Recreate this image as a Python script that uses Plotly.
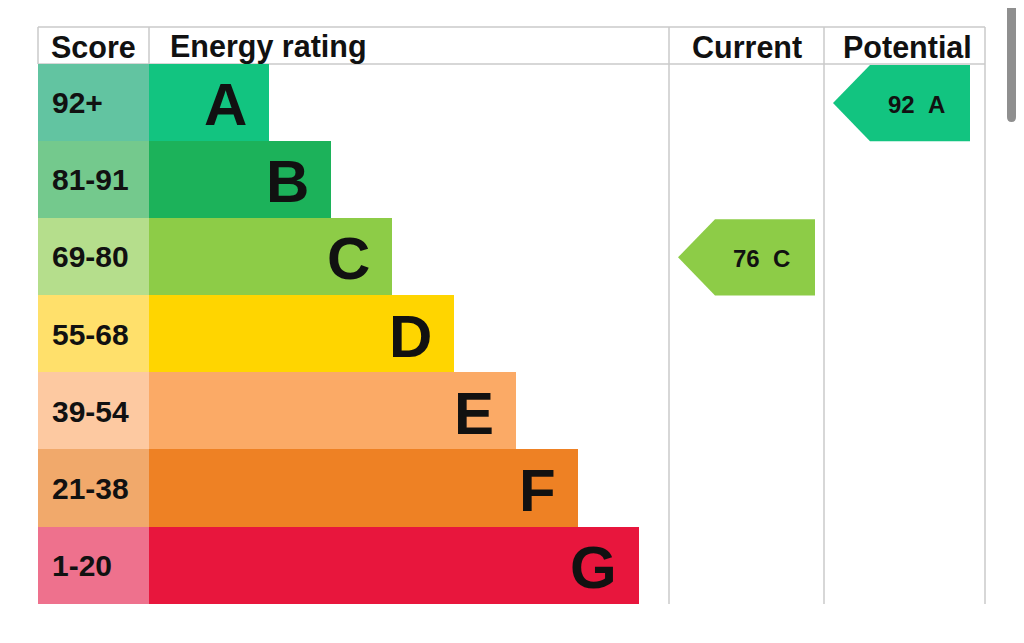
import plotly.graph_objects as go

# energy bands, top (best) to bottom
bands = ["A", "B", "C", "D", "E", "F", "G"]
score_ranges = ["92+", "81-91", "69-80", "55-68", "39-54", "21-38", "1-20"]
band_colors = ["#12c480", "#1cb25a", "#8dcc47", "#ffd500", "#fbaa66", "#ee8124", "#e8163d"]
score_colors = ["#62c4a1", "#74c98d", "#b5de8c", "#ffe06b", "#fdc9a1", "#f1a96b", "#ee718d"]

current_score, current_band = 76, "C"
potential_score, potential_band = 92, "A"

# geometry of the table, in page pixels (page body has an 8px margin)
W, H = 1008, 627
OFF = 8
left, right = 38, 985
top, head = 27, 64
row_h = (604 - head) / 7
score_w = 149 - left
bar_x0 = 149
bar_w0, bar_step = 120, 61.7
col_cur, col_pot = 669, 824
grid = "#cacaca"
ink = "#111111"
font = "Liberation Sans, Arial, sans-serif"

rows = [head + row_h * (i + 0.5) for i in range(len(bands))]
widths = [bar_w0 + bar_step * i for i in range(len(bands))]

fig = go.Figure()

# score cells
fig.add_trace(go.Bar(
    y=rows, x=[score_w] * len(bands), base=left, orientation="h",
    width=row_h + 0.6, marker=dict(color=score_colors, line=dict(width=0)),
    hoverinfo="skip", showlegend=False,
))
# rating bars
fig.add_trace(go.Bar(
    y=rows, x=widths, base=bar_x0, orientation="h",
    width=row_h + 0.6, marker=dict(color=band_colors, line=dict(width=0)),
    hoverinfo="skip", showlegend=False,
))


def arrow(score, band, x_right):
    i = bands.index(band)
    y0, y1 = head + row_h * i + 1, head + row_h * (i + 1)
    ym = (y0 + y1) / 2
    xs = [x_right - 137, x_right - 100, x_right, x_right, x_right - 100, x_right - 137]
    ys = [ym, y0, y0, y1, y1, ym]
    fig.add_trace(go.Scatter(
        x=xs, y=ys, fill="toself", mode="lines", line=dict(width=0),
        fillcolor=band_colors[i], hoverinfo="skip", showlegend=False,
    ))
    fig.add_annotation(
        x=x_right - 23, y=ym + 1, text=f"{score}&nbsp;&nbsp;{band}", showarrow=False,
        xanchor="right", yanchor="middle",
        font=dict(family=font, size=24, color=ink, weight="bold"),
    )


arrow(current_score, current_band, 815)
arrow(potential_score, potential_band, 970)

# letters and score labels
for i, b in enumerate(bands):
    fig.add_annotation(
        x=bar_x0 + widths[i] - 20, y=rows[i] + 2, text=b, showarrow=False,
        xanchor="right", yanchor="middle",
        font=dict(family=font, size=60, color=ink, weight="bold"),
    )
    fig.add_annotation(
        x=50, y=rows[i], text=score_ranges[i], showarrow=False,
        xanchor="left", yanchor="middle",
        font=dict(family=font, size=30, color=ink, weight="bold"),
    )

# header
headers = [("Score", (left + 149) / 2, "center"),
           ("Energy rating", 168, "left"),
           ("Current", (col_cur + col_pot) / 2, "center"),
           ("Potential", (col_pot + right) / 2 + 3, "center")]
for txt, x, anchor in headers:
    fig.add_annotation(
        x=x, y=(top + head) / 2 + 1, text=txt, showarrow=False,
        xanchor=anchor, yanchor="middle",
        font=dict(family=font, size=30.5, color=ink, weight="bold"),
    )

# grid lines
lines = [
    (left, top, right, top),
    (left, head, right, head),
    (left, top, left, head),
    (bar_x0, top, bar_x0, head),
    (col_cur, top, col_cur, 604),
    (col_pot, top, col_pot, 604),
    (right, top, right, 604),
]
for x0, y0, x1, y1 in lines:
    fig.add_shape(type="line", x0=x0, y0=y0, x1=x1, y1=y1,
                  line=dict(color=grid, width=1.5), layer="below")

# scrollbar of the captured page
fig.add_shape(type="path",
              path="M 1007 8 L 1016 8 L 1016 117 Q 1016 122 1011.5 122 Q 1007 122 1007 117 Z",
              fillcolor="#8f8f8f", line=dict(width=0))

fig.update_layout(
    width=W, height=H,
    margin=dict(l=0, r=0, t=0, b=0),
    paper_bgcolor="white", plot_bgcolor="white",
    barmode="overlay", bargap=0,
    xaxis=dict(range=[OFF, OFF + W], visible=False, fixedrange=True),
    yaxis=dict(range=[OFF + H, OFF], visible=False, fixedrange=True),
)

fig.write_html("out.html")
